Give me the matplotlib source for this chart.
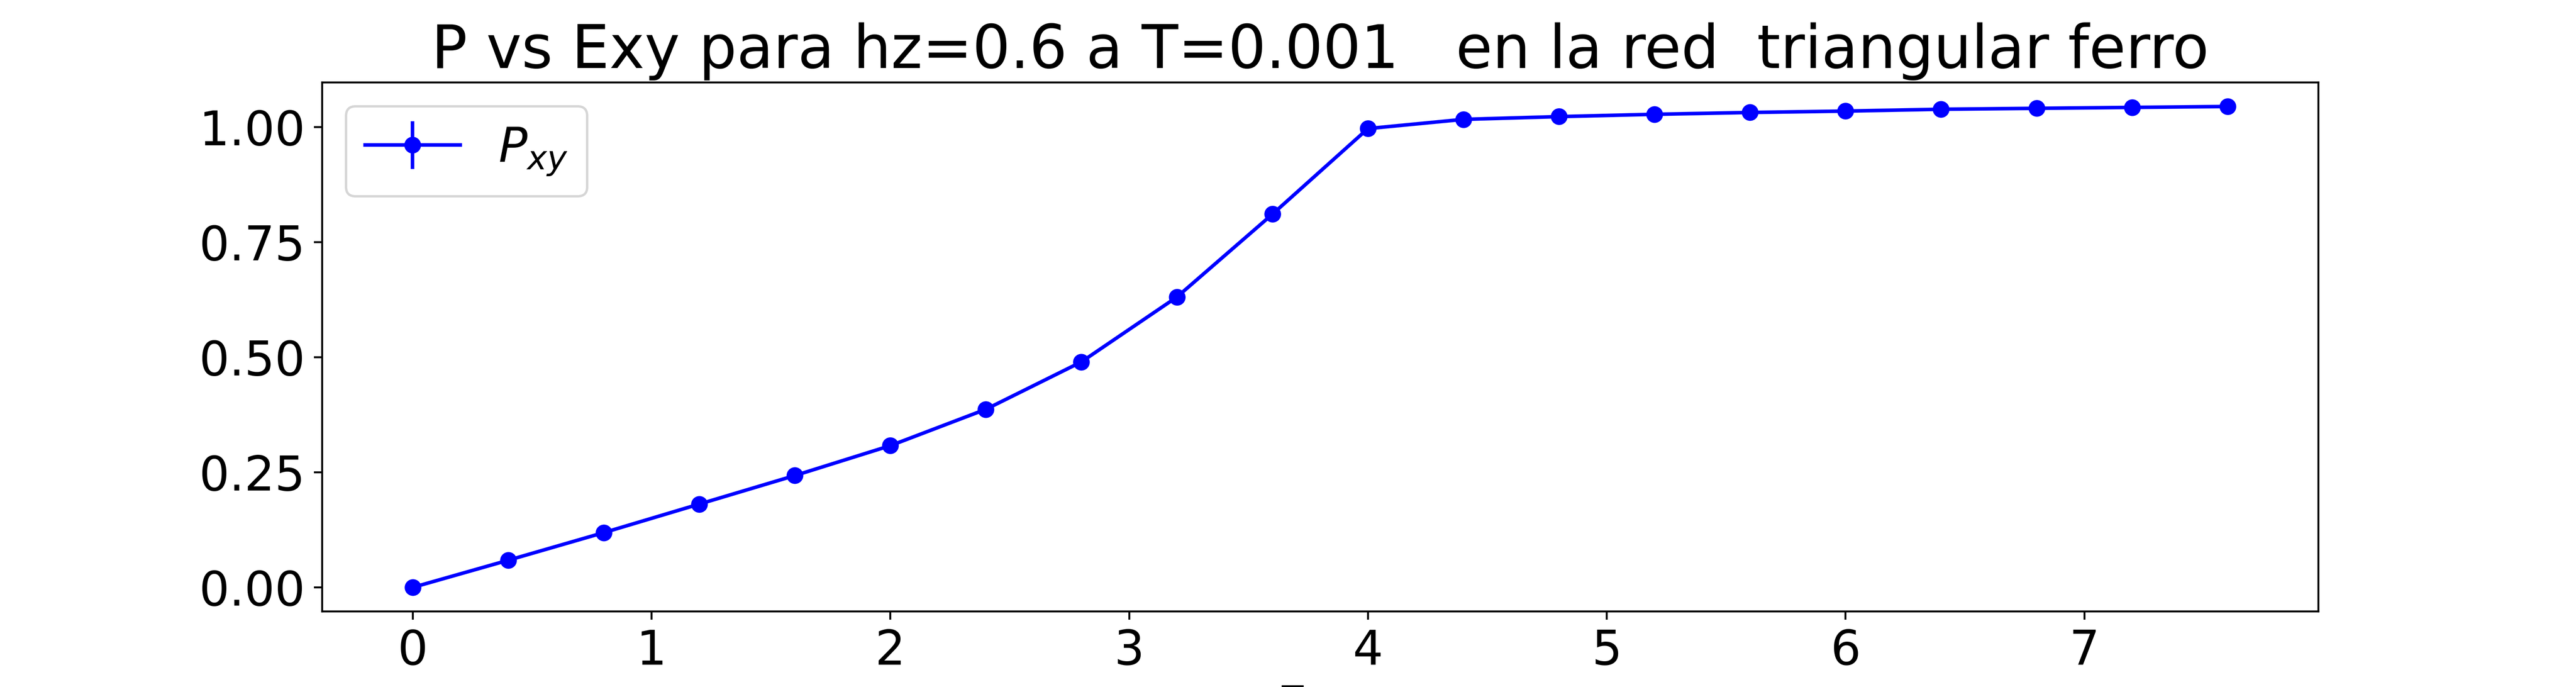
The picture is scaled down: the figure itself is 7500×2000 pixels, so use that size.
import matplotlib
matplotlib.use('Agg')
import matplotlib.pyplot as plt
from matplotlib.ticker import MultipleLocator

# datos
exy = [0.0, 0.4, 0.8, 1.2, 1.6, 2.0, 2.4, 2.8, 3.2, 3.6,
       4.0, 4.4, 4.8, 5.2, 5.6, 6.0, 6.4, 6.8, 7.2, 7.6]
p_xy = [0.000, 0.059, 0.119, 0.181, 0.243, 0.308, 0.387, 0.490, 0.631, 0.811,
        0.997, 1.017, 1.023, 1.028, 1.032, 1.035, 1.039, 1.041, 1.043, 1.045]
err_p = [0.0, 0.0, 0.0, 0.0, 0.0, 0.0, 0.0, 0.0, 0.0, 0.0,
         0.0, 0.0, 0.0, 0.0, 0.0, 0.0, 0.0, 0.0, 0.0, 0.0]

fig = plt.figure(figsize=(15, 4))
plt.errorbar(exy, p_xy, yerr=err_p, fmt='-o', color='b', label='$P_{xy}$')
plt.title('P vs Exy para hz=0.6 a T=0.001   en la red  triangular ferro', fontsize=25)
plt.xlabel('Exy', fontsize=20)
plt.gca().yaxis.set_major_locator(MultipleLocator(0.25))
plt.xticks(fontsize=20)
plt.yticks(fontsize=20)
plt.legend(loc='upper left', fontsize=20)
plt.savefig('out.png', dpi=500)
